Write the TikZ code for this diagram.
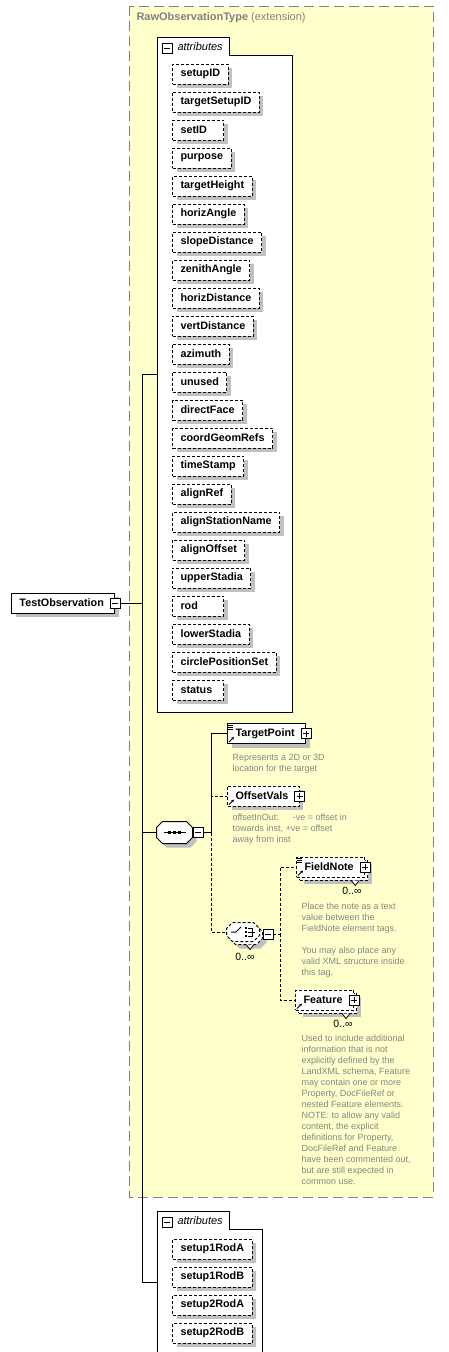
\documentclass[tikz,border=0pt]{standalone}
\usepackage{fontspec}
\setmainfont{Liberation Sans}
\usetikzlibrary{shadows,arrows.meta}

\definecolor{boxyellow}{HTML}{FFFFCC}
\definecolor{framegray}{HTML}{808080}
\definecolor{shadegray}{HTML}{C0C0C0}
\definecolor{notegray}{HTML}{858585}

\newcommand\minname[1]{\setbox0=\hbox{#1}\ifdim\wd0<35pt\makebox[35pt][l]{#1}\else#1\fi}
\newcommand\octpath[2]{([shift={(#2)},xshift=6pt]#1.north west) -- ([shift={(#2)},xshift=-6pt]#1.north east)
	-- ([shift={(#2)},yshift=-6pt]#1.north east) -- ([shift={(#2)},yshift=6pt]#1.south east)
	-- ([shift={(#2)},xshift=-6pt]#1.south east) -- ([shift={(#2)},xshift=6pt]#1.south west)
	-- ([shift={(#2)},yshift=6pt]#1.south west) -- ([shift={(#2)},yshift=-6pt]#1.north west) -- cycle}

\tikzset{
	shadowed/.style={drop shadow={shadow xshift=4pt,shadow yshift=-4pt,fill=shadegray,opacity=1}},
	optional/.style={dash pattern=on 3pt off 2pt},
	lbl/.style={font=\fontsize{10.8}{13}\selectfont\bfseries},
	attr/.style={lbl,draw,fill=white,optional,shadowed,anchor=west,minimum height=20pt,inner xsep=8pt,inner ysep=0pt},
	elem/.style={lbl,draw,fill=white,anchor=west,minimum height=20pt,inner xsep=8pt,inner ysep=0pt,execute at end node={\hspace*{3pt}}},
	comp/.style={inner sep=0pt},
	pmbox/.style={draw,fill=white,minimum size=10pt,inner sep=0pt,line width=0.8pt},
	minusbox/.style={pmbox,path picture={\draw ([xshift=2pt]path picture bounding box.west) -- ([xshift=-2pt]path picture bounding box.east);}},
	plusbox/.style={pmbox,path picture={\draw ([xshift=2pt]path picture bounding box.west) -- ([xshift=-2pt]path picture bounding box.east);
		\draw ([yshift=-2pt]path picture bounding box.north) -- ([yshift=2pt]path picture bounding box.south);}},
	desc/.style={font=\fontsize{9}{11}\selectfont,text=notegray,align=left,anchor=north west,inner sep=0pt},
	mult/.style={font=\fontsize{10.5}{12}\selectfont,inner sep=0pt},
	tab/.style={anchor=west,font=\fontsize{11}{13}\selectfont\itshape,inner sep=0pt}
}

\begin{document}
\begin{tikzpicture}[x=1pt,y=-1pt,line width=1pt]
	\useasboundingbox (0,0) rectangle (448,1352);
	\clip (0,0) rectangle (448,1352);

	\draw[framegray,dash pattern=on 10pt off 5pt,fill=boxyellow] (129,6) rectangle (433,1197);
	\node[anchor=west,inner sep=0pt,text=framegray,font=\fontsize{11}{13}\selectfont] (ext) at (136,18) {\textbf{RawObservationType} (extension)};

	\draw[fill=white] (157,37) -- (229,37) -- (229,55) -- (292,55) -- (292,712) -- (157,712) -- cycle;
	\node[minusbox] (attm) at (167,48.5) {};
	\node[tab] (att) at (177,47) {attributes};
	\foreach \a [count=\i] in {setupID,targetSetupID,setID,purpose,targetHeight,horizAngle,slopeDistance,zenithAngle,horizDistance,vertDistance,azimuth,unused,directFace,coordGeomRefs,timeStamp,alignRef,alignStationName,alignOffset,upperStadia,rod,lowerStadia,circlePositionSet,status}
		\node[attr] (ob\i) at (172,{46+28*\i}) {\minname{\a}};

	\draw[fill=white] (157,1211) -- (229,1211) -- (229,1229) -- (262,1229) -- (262,1360) -- (157,1360) -- cycle;
	\node[minusbox] (rodm) at (167,1222.5) {};
	\node[tab] (rodt) at (177,1221) {attributes};
	\foreach \a [count=\i] in {setup1RodA,setup1RodB,setup2RodA,setup2RodB}
		\node[attr] (rod\i) at (172,{1221+28*\i}) {\minname{\a}};

	\node[elem,shadowed] (obs) at (11,603) {TestObservation};
	\node[minusbox] (obsm) at (obs.east) {};
	\coordinate (spine) at (142,603);
	\coordinate (top) at (157,374);
	\coordinate (bot) at (157,1282);
	\draw (obsm.east) -- (spine);
	\draw (top) -| (spine |- bot) -- (bot);

	\node[comp,minimum width=35pt,minimum height=21pt] (seq) at (174.5,832.5) {};
	\fill[shadegray] \octpath{seq}{4,4};
	\draw[fill=white] \octpath{seq}{0,0};
	\draw (seq.center) ++(-11,0) -- ++(22,0);
	\foreach \d in {-5,0,5}
		\fill (seq.center) ++({\d-1.5},-1.5) rectangle ++(3,3);
	\node[minusbox,anchor=west] (seqm) at (seq.east) {};
	\draw (spine |- seq) -- (seq.west);

	\node[elem,shadowed] (tp) at (227,733.5) {TargetPoint};
	\node[plusbox] (tpp) at (tp.east) {};
	\node[desc] (tpd) at (232,753.5) {Represents a 2D or 3D\\location for the target};

	\node[elem,optional,shadowed] (ov) at (227,796) {OffsetVals};
	\node[plusbox] (ovp) at (ov.east) {};
	\node[desc] (ovd) at (232,813.5) {offsetInOut:\hspace{14pt}-ve = offset in\\towards inst, +ve = offset\\away from inst};

	\node[comp,minimum width=32pt,minimum height=18pt] (ch) at (243,932) {};
	\fill[shadegray] \octpath{ch}{7,7};
	\draw[optional,fill=white] \octpath{ch}{3,3};
	\draw[optional,fill=white] \octpath{ch}{0,0};
	\draw[fill=white,line width=0.8pt] ([shift={(3,3)}]ch.south) -- ++(4,5) -- ++(4,-5);
	\node[mult] (chn) at (245,957) {0..∞};
	\draw (ch.center) ++(-12,0) -- ++(5,0) -- ++(5,-5);
	\foreach \d in {-4,0,4}
		\fill (ch.center) ++(1.5,{\d-1.25}) rectangle ++(2.5,2.5);
	\draw[line width=0.8pt] (ch.center) ++(5,-4) -- ++(4,0) -- ++(0,8) -- ++(-4,0);
	\draw[line width=0.8pt] (ch.center) ++(5,0) -- ++(7,0);
	\node[minusbox,anchor=west] (chm) at ([shift={(3,2)}]ch.east) {};

	\coordinate (fork) at (211,832.5);
	\draw[optional] (fork) |- (ov.west);
	\draw[optional] (fork) |- (ch.west);
	\draw (seqm.east) -- (fork) |- (tp.west);

	\node[elem,optional,shadowed] (fnb) at (299,870) {\phantom{FieldNote}};
	\node[elem,optional] (fn) at (296,867) {FieldNote};
	\draw[fill=white,line width=0.8pt] ([xshift=-17pt]fnb.south east) -- ++(4,5) -- ++(4,-5);
	\node[plusbox] (fnp) at (fn.east) {};
	\node[mult] (fnn) at (352,891) {0..∞};
	\node[desc] (fnd) at (301,902.5) {Place the note as a text\\value between the\\FieldNote element tags.\\[11pt]You may also place any\\valid XML structure inside\\this tag.};

	\node[elem,optional,shadowed] (feb) at (298,1003) {\phantom{Feature}};
	\node[elem,optional] (fe) at (295,1000) {Feature};
	\draw[fill=white,line width=0.8pt] ([xshift=-15pt]feb.south east) -- ++(4,5) -- ++(4,-5);
	\node[plusbox] (fep) at (fe.east) {};
	\node[mult] (fen) at (343,1024) {0..∞};
	\node[desc] (fed) at (301,1034.5) {Used to include additional\\information that is not\\explicitly defined by the\\LandXML schema, Feature\\may contain one or more\\Property, DocFileRef or\\nested Feature elements.\\NOTE: to allow any valid\\content, the explicit\\definitions for Property,\\DocFileRef and Feature\\have been commented out,\\but are still expected in\\common use.};

	\coordinate (fork2) at (280,934);
	\draw[optional] (chm.east) -- (fork2) |- (fn.west);
	\draw[optional] (fork2) |- (fe.west);

	\foreach \e in {tp,fn}
		\foreach \k in {2,4,6}
			\draw[line width=0.7pt] (\e.north west) ++(1,\k) -- ++(5,0);
	\foreach \e in {tp,ov,fn,fe}
		\draw[line width=0.9pt,-{Stealth[length=3pt,width=3pt]}] (\e.south west) ++(2,-2) -- ++(5,-5);
\end{tikzpicture}
\end{document}
